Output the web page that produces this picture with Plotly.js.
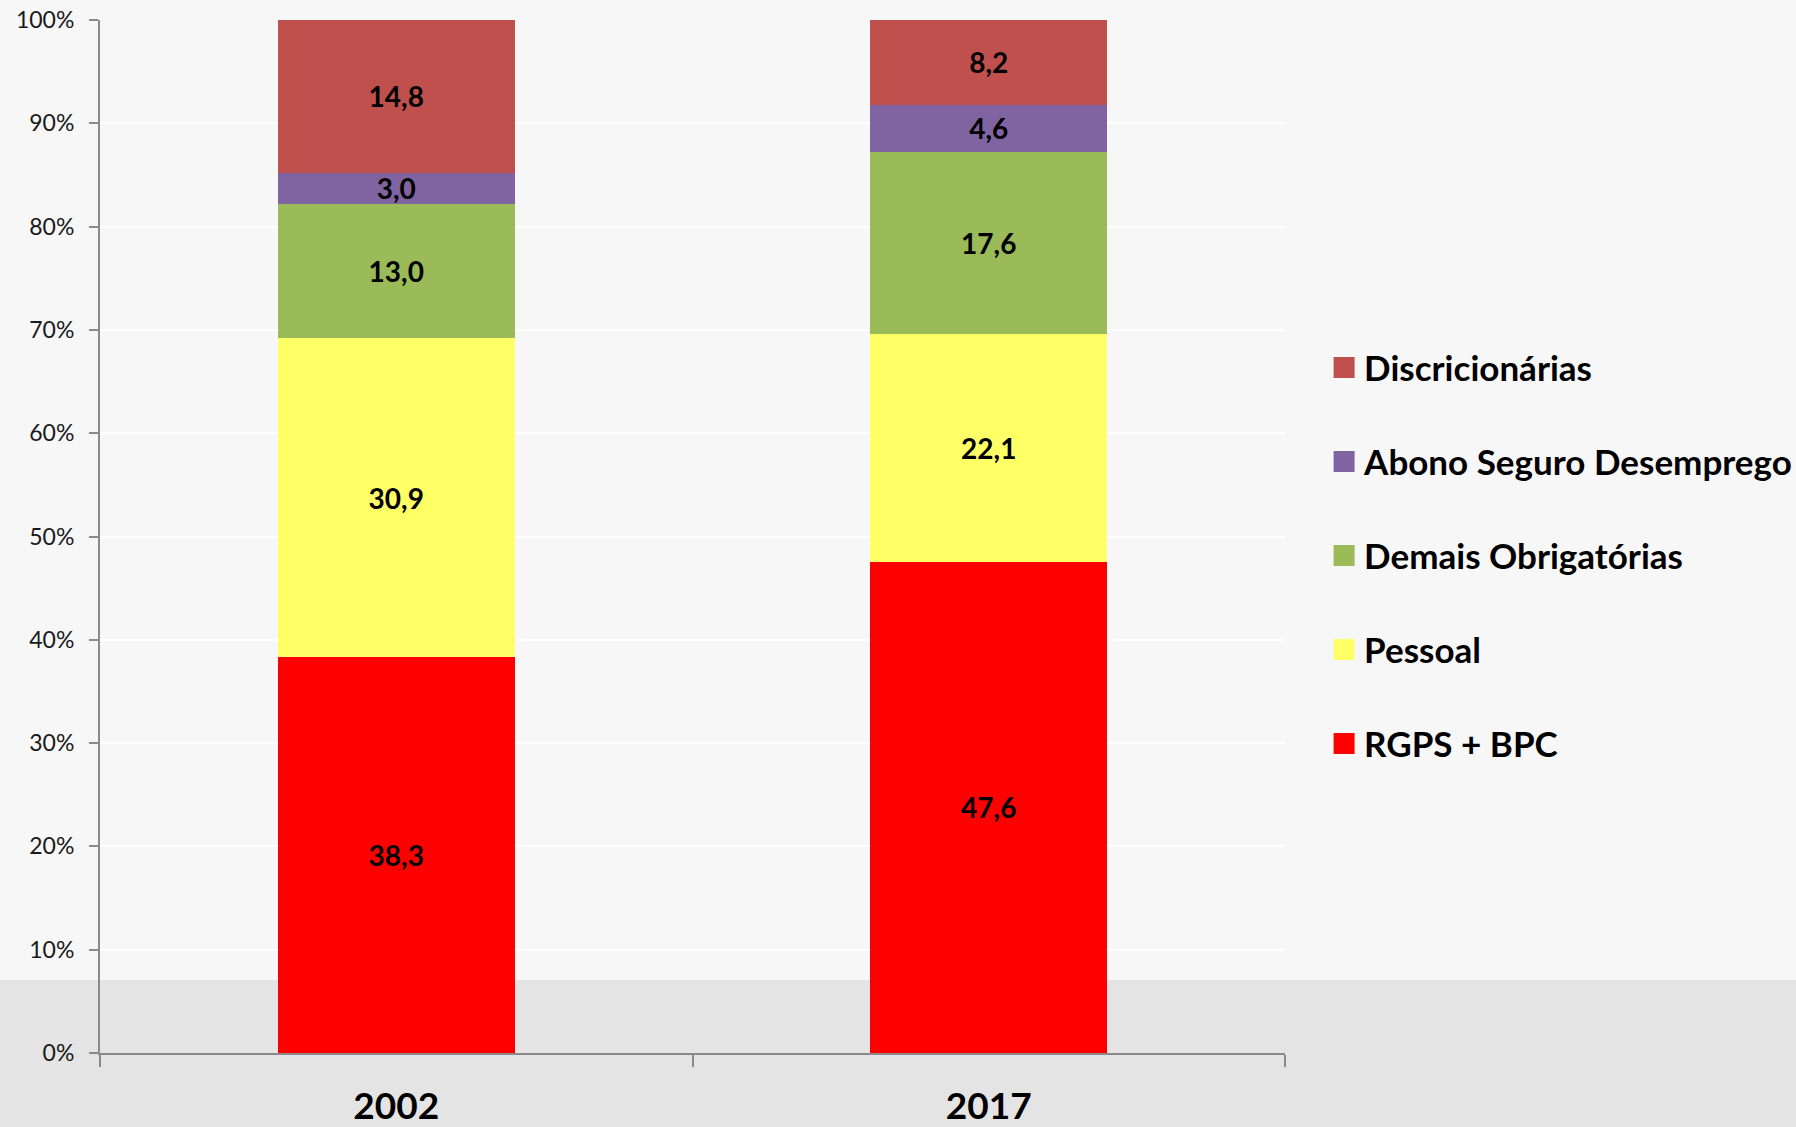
<!DOCTYPE html>
<html>
<head>
<meta charset="utf-8">
<script src="https://cdn.plot.ly/plotly-3.0.1.min.js"></script>
<style>html,body{margin:0;padding:0;background:#f7f7f7;}#chart{width:1796px;height:1127px;}</style>
</head>
<body>
<div id="chart"></div>
<script>
const years = ['2002', '2017'];
const seriesNames = ['RGPS + BPC', 'Pessoal', 'Demais Obrigatórias', 'Abono Seguro Desemprego', 'Discricionárias'];
const rgpsBpc = [38.3, 47.6];
const pessoal = [30.9, 22.1];
const demaisObrigatorias = [13.0, 17.6];
const abonoSeguro = [3.0, 4.6];
const discricionarias = [14.8, 8.2];
const seriesColors = ['#FF0000', '#FFFF66', '#9BBB59', '#8064A2', '#C0504D'];
const yTickVals = [0, 10, 20, 30, 40, 50, 60, 70, 80, 90, 100];

const seriesValues = [rgpsBpc, pessoal, demaisObrigatorias, abonoSeguro, discricionarias];
const fmt = v => v.toFixed(1).replace('.', ',');

const traces = seriesValues.map((vals, i) => ({
  type: 'bar',
  name: seriesNames[i],
  x: years,
  y: vals,
  text: vals.map(fmt),
  textposition: 'inside',
  insidetextanchor: 'middle',
  constraintext: 'none',
  textangle: 0,
  textfont: {family: 'Lato, sans-serif', size: 28, color: '#000000', weight: 'bold'},
  marker: {color: seriesColors[i], line: {width: 0}},
  legendgroup: 'g' + i,
  legendrank: 10 - i,
  hoverinfo: 'skip'
}));

const layout = {
  width: 1796,
  height: 1127,
  paper_bgcolor: '#f7f7f7',
  plot_bgcolor: 'rgba(0,0,0,0)',
  barmode: 'stack',
  barnorm: 'percent',
  bargap: 0.6,
  margin: {l: 100, r: 511, t: 20, b: 74, pad: 0, autoexpand: false},
  font: {family: 'Lato, sans-serif', color: '#111111'},
  xaxis: {
    type: 'category',
    showline: true,
    linecolor: '#8a8a8a',
    linewidth: 2,
    ticks: 'outside',
    tickson: 'boundaries',
    ticklen: 12,
    tickcolor: '#8a8a8a',
    tickwidth: 2,
    ticklabelstandoff: 20,
    tickfont: {family: 'Lato, sans-serif', size: 37, color: '#000000', weight: 'bold'},
    showgrid: false,
    zeroline: false,
    fixedrange: true
  },
  yaxis: {
    range: [0, 100],
    tickvals: yTickVals,
    ticktext: yTickVals.map(v => v + '%'),
    showline: true,
    linecolor: '#8a8a8a',
    linewidth: 2,
    ticks: 'outside',
    ticklen: 9,
    tickcolor: '#8a8a8a',
    tickwidth: 2,
    ticklabelstandoff: 10,
    tickfont: {family: 'Lato, sans-serif', size: 23, color: '#1a1a1a'},
    showgrid: true,
    gridcolor: '#ffffff',
    gridwidth: 2,
    zeroline: false,
    fixedrange: true
  },
  showlegend: true,
  legend: {
    x: 1.033,
    xanchor: 'left',
    y: 0.692,
    yanchor: 'top',
    traceorder: 'grouped',
    tracegroupgap: 45.5,
    bgcolor: 'rgba(0,0,0,0)',
    borderwidth: 0,
    font: {family: 'Lato, sans-serif', size: 35, color: '#000000', weight: 'bold'}
  },
  shapes: [{
    type: 'rect', xref: 'paper', yref: 'paper', layer: 'below',
    x0: -0.2, x1: 1.6, y0: -0.08, y1: 0.0707,
    fillcolor: '#e4e4e4', line: {width: 0}
  }]
};

function enlargeLegendSymbols() {
  document.querySelectorAll('#chart .legendpoints path').forEach(p => {
    p.setAttribute('d', 'M10.5,10.5H-10.5V-10.5H10.5Z');
  });
}

Plotly.newPlot('chart', traces, layout, {displayModeBar: false, staticPlot: true}).then(gd => {
  enlargeLegendSymbols();
  gd.on('plotly_afterplot', enlargeLegendSymbols);
});
</script>
</body>
</html>
